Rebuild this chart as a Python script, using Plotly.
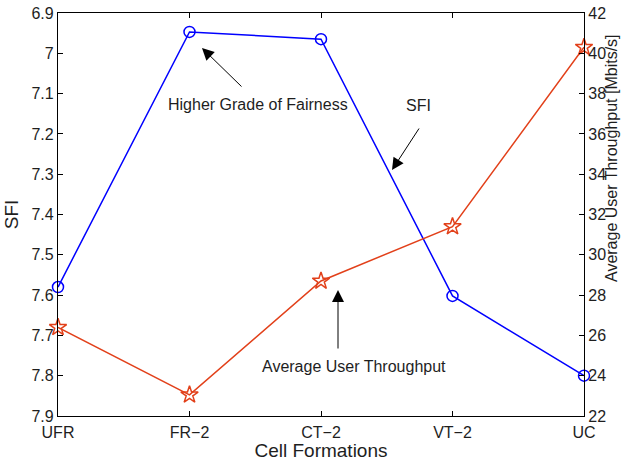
import plotly.graph_objects as go

categories = ["UFR", "FR\u22122", "CT\u22122", "VT\u22122", "UC"]
sfi = [7.58, 6.947, 6.965, 7.602, 7.80]
throughput = [26.4, 23.05, 28.7, 31.4, 40.3]
sfi_ticks = [6.9, 7.0, 7.1, 7.2, 7.3, 7.4, 7.5, 7.6, 7.7, 7.8, 7.9]
sfi_ticktext = ["6.9", "7", "7.1", "7.2", "7.3", "7.4", "7.5", "7.6", "7.7", "7.8", "7.9"]
tp_ticks = [22, 24, 26, 28, 30, 32, 34, 36, 38, 40, 42]

xs = list(range(len(categories)))
fig = go.Figure()
fig.add_trace(go.Scatter(x=xs, y=sfi, mode="lines+markers", yaxis="y",
                         line=dict(color="#0000ff", width=1.5),
                         marker=dict(symbol="circle-open", size=11, color="#0000ff", line=dict(width=1.5)),
                         cliponaxis=False, showlegend=False))
fig.add_trace(go.Scatter(x=xs, y=throughput, mode="lines+markers", yaxis="y2",
                         line=dict(color="#e2401a", width=1.5),
                         marker=dict(symbol="star-open", size=13, color="#e2401a", line=dict(width=1.5)),
                         cliponaxis=False, showlegend=False))

W, H = 621, 461
L, R, T, B = 58, 37, 13, 45
pw, ph = W - L - R, H - T - B
# screen pixel -> paper coords (plot spans x 58..584, y 13..416)
def px(x): return (x - L) / pw
def py(y): return (H - B - y) / ph

TXT = "#1e1e1e"
FONT = "Liberation Sans, Arial"
font = dict(family=FONT, size=16, color=TXT)
ann = []
def arrow(hx, hy, tx, ty):
    ann.append(dict(x=px(hx), y=py(hy), xref="paper", yref="paper", ax=tx - hx, ay=ty - hy,
                    showarrow=True, arrowhead=2, arrowsize=2.4, arrowwidth=1, arrowcolor="black", text=""))
def label(cx, cy, t, angle=0, size=16):
    ann.append(dict(x=px(cx), y=py(cy), xref="paper", yref="paper", text=t, showarrow=False,
                    xanchor="center", yanchor="middle",
                    textangle=angle, font=dict(family=FONT, size=size, color=TXT)))
arrow(202, 48, 243, 88)
label(258, 104, "Higher Grade of Fairness")
arrow(392, 170, 420, 127)
label(418, 106, "SFI")
arrow(338, 290, 338, 350)
label(354, 366, "Average User Throughput")
label(612, 158, "Average User Throughput [Mbits/s]", angle=-90, size=16)

fig.update_layout(
    width=W, height=H, margin=dict(l=L, r=R, t=T, b=B, autoexpand=False),
    paper_bgcolor="white", plot_bgcolor="white", font=font,
    xaxis=dict(range=[0, 4], tickvals=xs, ticktext=categories, showgrid=False, zeroline=False,
               showline=True, linecolor="black", linewidth=1.2, mirror="ticks",
               ticks="inside", ticklen=5, tickcolor="black", ticklabelstandoff=2,
               ticklabeloverflow="allow",
               title=dict(text="Cell Formations", standoff=0)),
    yaxis=dict(range=[7.9, 6.9], tickvals=sfi_ticks, ticktext=sfi_ticktext, showgrid=False, zeroline=False,
               showline=True, linecolor="black", linewidth=1.2, ticks="inside", ticklen=5, tickcolor="black",
               ticklabeloverflow="allow",
               title=dict(text="SFI", standoff=7)),
    yaxis2=dict(range=[22, 42], tickvals=tp_ticks, overlaying="y", side="right", showgrid=False, zeroline=False,
                showline=True, linecolor="black", linewidth=1.2, ticks="inside", ticklen=5, tickcolor="black",
                ticklabeloverflow="allow"),
    annotations=ann,
)
fig.write_html("out.html", config={"displayModeBar": False},
               post_script="document.body.style.margin='0';")
